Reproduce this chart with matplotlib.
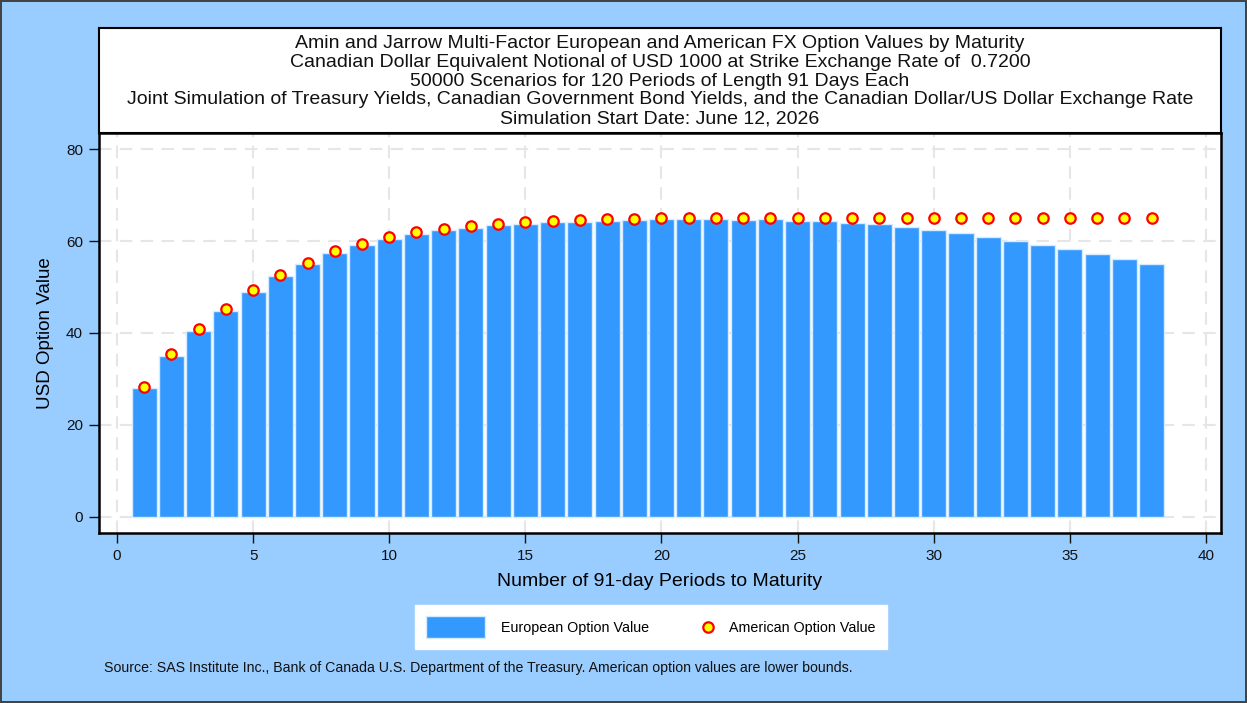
import matplotlib.pyplot as plt
from matplotlib.patches import Patch
from matplotlib.lines import Line2D
from matplotlib.legend_handler import HandlerLine2D

plt.rcParams['font.family'] = ['Liberation Sans', 'DejaVu Sans']

# Daten
periods = list(range(1, 39))
european = [28.0, 35.0, 40.4, 44.8, 48.9, 52.4, 55.0, 57.4, 59.1, 60.4,
            61.5, 62.4, 62.9, 63.5, 63.8, 64.1, 64.2, 64.4, 64.6, 64.7,
            64.8, 64.8, 64.6, 64.7, 64.4, 64.3, 64.0, 63.7, 63.1, 62.5,
            61.7, 60.9, 60.1, 59.1, 58.2, 57.1, 56.1, 55.1]
american = [28.3, 35.4, 40.8, 45.2, 49.3, 52.7, 55.3, 57.8, 59.4, 60.8,
            61.9, 62.7, 63.2, 63.8, 64.1, 64.3, 64.6, 64.7, 64.9, 65.0,
            65.1, 65.1, 65.1, 65.1, 65.1, 65.1, 65.1, 65.1, 65.1, 65.1,
            65.1, 65.1, 65.1, 65.1, 65.1, 65.1, 65.1, 65.1]
x_ticks = [0, 5, 10, 15, 20, 25, 30, 35, 40]
y_ticks = [0, 20, 40, 60, 80]

title_lines = [
    "Amin and Jarrow Multi-Factor European and American FX Option Values by Maturity",
    "Canadian Dollar Equivalent Notional of USD 1000 at Strike Exchange Rate of  0.7200",
    "50000 Scenarios for 120 Periods of Length 91 Days Each",
    "Joint Simulation of Treasury Yields, Canadian Government Bond Yields, and the Canadian Dollar/US Dollar Exchange Rate",
    "Simulation Start Date: June 12, 2026",
]
source = ("Source: SAS Institute Inc., Bank of Canada U.S. Department of the Treasury. "
          "American option values are lower bounds.")

W, H = 1247, 703
bg = '#99CCFF'
bar_color = '#3399FF'

fig = plt.figure(figsize=(W / 100, H / 100), dpi=100, facecolor=bg)
fig.patch.set_edgecolor('#444444')
fig.patch.set_linewidth(1.5)

# Titelbox
tax = fig.add_axes([99 / W, 1 - 133 / H, (1221 - 99) / W, (133 - 28) / H])
tax.set_facecolor('white')
tax.set_xticks([])
tax.set_yticks([])
for s in tax.spines.values():
    s.set_color('black')
    s.set_linewidth(1.5)
tax.text(0.5, 0.495, "\n".join(title_lines), ha='center', va='center',
         fontsize=14, linespacing=1.15, color='#111111', transform=tax.transAxes)

# Hauptplot
ax = fig.add_axes([99 / W, 1 - 533 / H, (1221 - 99) / W, (533 - 133) / H])
ax.set_facecolor('white')
ax.bar(periods, european, width=0.92, color=bar_color, edgecolor='#d6ebff',
       linewidth=1, zorder=2)
ax.plot(periods, american, linestyle='none', marker='o', markersize=7.5,
        markerfacecolor='#FFFF00', markeredgecolor='#FF0000', markeredgewidth=1.6,
        zorder=3)
ax.set_xlim(-0.66, 40.55)
ax.set_ylim(-3.5, 83.5)
ax.set_xticks(x_ticks)
ax.set_yticks(y_ticks)
ax.grid(True, color='#e6e6e6', linestyle=(0, (6, 4)), linewidth=1.5, zorder=0)
ax.tick_params(axis='both', direction='out', length=7.5, width=1, colors='#111111',
               labelsize=11, pad=4)
for s in ax.spines.values():
    s.set_color('black')
    s.set_linewidth(1.8)
ax.set_xlabel("Number of 91-day Periods to Maturity", fontsize=14, labelpad=7)
ax.set_ylabel("USD Option Value", fontsize=13.5, labelpad=9)


# Marker in der Legende rechts im Handle-Bereich und vertikal zentriert
class RightMarker(HandlerLine2D):
    def create_artists(self, legend, orig_handle, xdescent, ydescent, width,
                       height, fontsize, trans):
        artists = super().create_artists(legend, orig_handle, xdescent, ydescent,
                                         width, height, fontsize, trans)
        mx = -xdescent + width - 4
        my = -ydescent + height / 2
        for a in artists:
            n = len(a.get_xdata())
            a.set_data([mx] * n, [my] * n)
        return artists


h1 = Patch(facecolor=bar_color, edgecolor='#d6ebff', label='European Option Value')
h2 = Line2D([], [], linestyle='none', marker='o', markersize=7.5,
            markerfacecolor='#FFFF00', markeredgecolor='#FF0000',
            markeredgewidth=1.6, label='American Option Value')
leg = fig.legend(handles=[h1, h2], loc='center left', ncol=2,
                 bbox_to_anchor=(415 / W, 1 - 627 / H), frameon=True,
                 fancybox=False, edgecolor='white', facecolor='white',
                 framealpha=1, fontsize=10.3, handlelength=4.1, handleheight=2.0,
                 handletextpad=1.1, columnspacing=0.4, borderpad=0.8,
                 borderaxespad=0, handler_map={h2: RightMarker(numpoints=1)})

fig.text(104 / W, 1 - 668 / H, source, fontsize=10.2, ha='left', va='center',
         color='#111111')

fig.savefig("out.png", dpi=100, facecolor=bg, edgecolor='#444444')
